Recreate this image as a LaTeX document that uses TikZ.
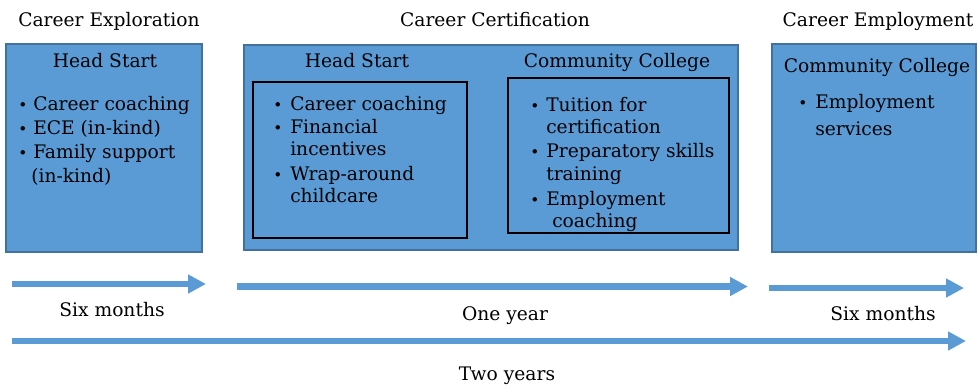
\documentclass[tikz,border=0pt]{standalone}
\usepackage{fontspec}
\setmainfont{DejaVu Serif}
\usetikzlibrary{arrows.meta}
\definecolor{boxblue}{HTML}{5B9BD5}
\definecolor{boxedge}{HTML}{41719C}
\begin{document}
\begin{tikzpicture}[x=0.75pt,y=-0.75pt,
  phase/.style={draw=boxedge, line width=1.5pt, fill=boxblue, inner sep=0pt},
  group/.style={draw=black, line width=1.5pt, inner sep=0pt},
  txt/.style={anchor=base west, inner sep=0pt, font=\fontsize{14}{18}\selectfont},
  ctr/.style={anchor=base, inner sep=0pt, font=\fontsize{14}{18}\selectfont},
  dot/.style={anchor=base, inner sep=0pt, font=\fontsize{11.5}{11.5}\selectfont},
  span/.style={draw=boxblue, line width=4.9pt, -{Triangle[width=13.5pt,length=13.5pt]}}
]
\useasboundingbox (0,0) rectangle (978,387);

% phase boxes
\node[phase, minimum width=147pt, minimum height=156pt] (explore) at (104,148) {};
\node[phase, minimum width=370.5pt, minimum height=153.75pt] (certify) at (491,147.5) {};
\node[phase, minimum width=153pt, minimum height=156pt] (employ) at (874,148) {};

% provider groups inside the certification phase
\node[group, minimum width=160.5pt, minimum height=117pt] (hsgroup) at (360,160) {};
\node[group, minimum width=165.75pt, minimum height=116.25pt] (ccgroup) at (618.5,155.5) {};

% phase titles
\node[ctr] (t1) at (109,26) {Career Exploration};
\node[ctr] (t2) at (495,26) {Career Certification};
\node[ctr] (t3) at (878,26) {Career Employment};

% exploration: Head Start
\node[ctr] (h1) at (105,67) {Head Start};
\node[dot] (b11) at (23,110) {•};
\node[txt] (l11) at (33,110) {Career coaching};
\node[dot] (b12) at (23,134) {•};
\node[txt] (l12) at (33,134) {ECE (in-kind)};
\node[dot] (b13) at (23,158) {•};
\node[txt] (l13) at (33,158) {Family support};
\node[txt] (l14) at (31,182) {(in-kind)};

% certification: Head Start
\node[ctr] (h2) at (357,67) {Head Start};
\node[dot] (b21) at (278,110) {•};
\node[txt] (l21) at (290,110) {Career coaching};
\node[dot] (b22) at (278,133) {•};
\node[txt] (l22) at (290,133) {Financial};
\node[txt] (l23) at (290,155) {incentives};
\node[dot] (b23) at (278,180) {•};
\node[txt] (l24) at (290,180) {Wrap-around};
\node[txt] (l25) at (290,202) {childcare};

% certification: Community College
\node[ctr] (h3) at (617,67) {Community College};
\node[dot] (b31) at (535,111) {•};
\node[txt] (l31) at (546,111) {Tuition for};
\node[txt] (l32) at (546,133) {certification};
\node[dot] (b32) at (535,157) {•};
\node[txt] (l33) at (546,157) {Preparatory skills};
\node[txt] (l34) at (546,180) {training};
\node[dot] (b33) at (535,205) {•};
\node[txt] (l35) at (546,205) {Employment};
\node[txt] (l36) at (552,227) {coaching};

% employment: Community College
\node[ctr] (h4) at (877,72) {Community College};
\node[dot] (b41) at (803,108) {•};
\node[txt] (l41) at (815,108) {Employment};
\node[txt] (l42) at (815,135) {services};

% timeline arrows
\coordinate (a1s) at (12,284);    \coordinate (a1e) at (206,284);
\coordinate (a2s) at (237,286.5); \coordinate (a2e) at (748,286.5);
\coordinate (a3s) at (769,288);   \coordinate (a3e) at (964,288);
\coordinate (a4s) at (12,341);    \coordinate (a4e) at (966,341);
\draw[span] (a1s) -- (a1e);
\draw[span] (a2s) -- (a2e);
\draw[span] (a3s) -- (a3e);
\draw[span] (a4s) -- (a4e);

% durations
\node[ctr] (d1) at (112,316) {Six months};
\node[ctr] (d2) at (505,320) {One year};
\node[ctr] (d3) at (883,320) {Six months};
\node[ctr] (d4) at (507,380) {Two years};
\end{tikzpicture}
\end{document}
